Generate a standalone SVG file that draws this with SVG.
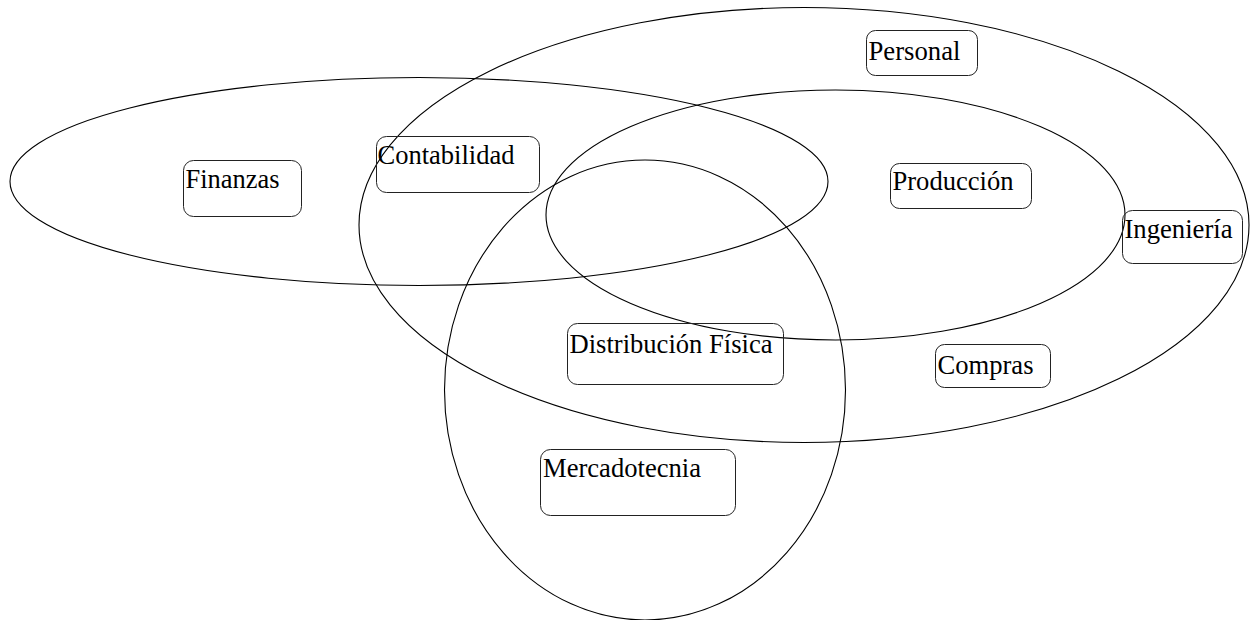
<svg xmlns="http://www.w3.org/2000/svg" width="1252" height="620" viewBox="0 0 1252 620">
  <style>
    .area { fill: none; stroke: #000; stroke-width: 1.1; }
    .box { fill: none; stroke: #222; stroke-width: 1; }
    .lbl { font-family: 'Liberation Serif', 'Times New Roman', serif; font-size: 26.5px; fill: #000; }
  </style>
  <rect width="1252" height="620" fill="#fff"/>

  <!-- overlapping functional areas -->
  <g id="areas">
    <ellipse id="area-general" class="area" cx="804" cy="225" rx="445" ry="217.5"/>
    <ellipse id="area-finanzas" class="area" cx="419" cy="181.5" rx="409" ry="104"/>
    <ellipse id="area-produccion" class="area" cx="835.5" cy="215" rx="289.5" ry="125"/>
    <ellipse id="area-mercadotecnia" class="area" cx="645" cy="390" rx="200.5" ry="230"/>
  </g>

  <g id="connectors"></g>

  <g id="finanzas">
    <rect class="box" x="183.5" y="160.5" width="118" height="56" rx="10"/>
    <text class="lbl" x="185.5" y="188" textLength="94" lengthAdjust="spacingAndGlyphs">Finanzas</text>
  </g>
  <g id="contabilidad">
    <rect class="box" x="376.5" y="136.5" width="163" height="56" rx="10"/>
    <text class="lbl" x="377.5" y="164" textLength="137" lengthAdjust="spacingAndGlyphs">Contabilidad</text>
  </g>
  <g id="personal">
    <rect class="box" x="866.5" y="30.5" width="111" height="45" rx="9"/>
    <text class="lbl" x="868.5" y="60" textLength="92" lengthAdjust="spacingAndGlyphs">Personal</text>
  </g>
  <g id="produccion">
    <rect class="box" x="890.5" y="163.5" width="141" height="45" rx="9"/>
    <text class="lbl" x="892.5" y="190" textLength="121" lengthAdjust="spacingAndGlyphs">Producción</text>
  </g>
  <g id="ingenieria">
    <rect class="box" x="1122.5" y="210.5" width="120" height="53" rx="10"/>
    <text class="lbl" x="1124.5" y="238" textLength="108" lengthAdjust="spacingAndGlyphs">Ingeniería</text>
  </g>
  <g id="distribucion">
    <rect class="box" x="567.5" y="323.5" width="216" height="61" rx="10"/>
    <text class="lbl" x="569.5" y="353" textLength="203" lengthAdjust="spacingAndGlyphs">Distribución Física</text>
  </g>
  <g id="compras">
    <rect class="box" x="935.5" y="344.5" width="115" height="43" rx="9"/>
    <text class="lbl" x="937.5" y="374" textLength="96" lengthAdjust="spacingAndGlyphs">Compras</text>
  </g>
  <g id="mercadotecnia">
    <rect class="box" x="540.5" y="449.5" width="195" height="66" rx="10"/>
    <text class="lbl" x="543" y="477" textLength="158" lengthAdjust="spacingAndGlyphs">Mercadotecnia</text>
  </g>
</svg>
